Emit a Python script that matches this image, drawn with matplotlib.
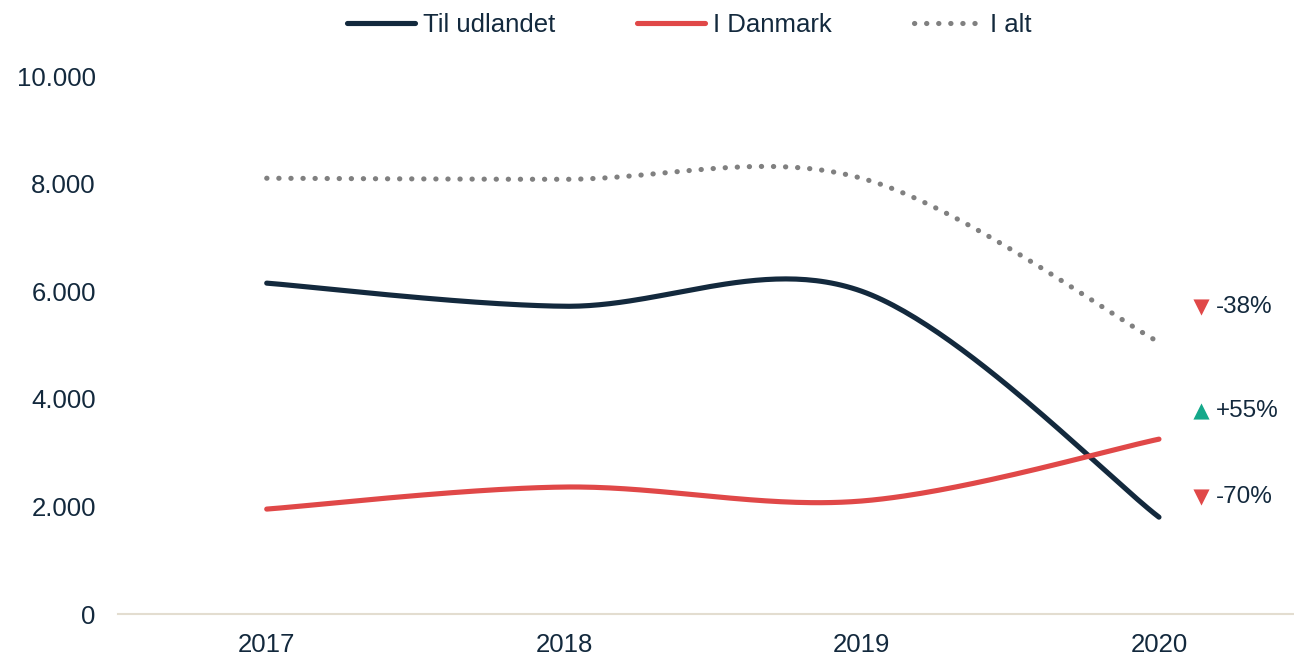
import numpy as np
import matplotlib
matplotlib.use("Agg")
import matplotlib.pyplot as plt

# data
years = ["2017", "2018", "2019", "2020"]
til_udlandet = [6150, 5720, 6000, 1800]
i_danmark = [1950, 2360, 2100, 3250]
i_alt = [8100, 8080, 8100, 5050]
y_ticks = [0, 2000, 4000, 6000, 8000, 10000]

NAVY = "#13293d"
RED = "#e04848"
GRAY = "#808080"
GREEN = "#14a88a"

plt.rcParams['font.family'] = ['Liberation Sans', 'DejaVu Sans']


def excel_smooth(xs, ys, n=60):
    # bezier smoothing like Excel's "smoothed line"
    pts = np.column_stack([xs, ys]).astype(float)
    ext = np.vstack([pts[0], pts, pts[-1]])
    out = []
    t = np.linspace(0, 1, n)[:, None]
    for i in range(len(pts) - 1):
        p0, p1, p2, p3 = ext[i], ext[i + 1], ext[i + 2], ext[i + 3]
        c1 = p1 + (p2 - p0) / 6
        c2 = p2 - (p3 - p1) / 6
        seg = ((1 - t) ** 3) * p1 + 3 * ((1 - t) ** 2) * t * c1 + 3 * (1 - t) * t ** 2 * c2 + t ** 3 * p2
        out.append(seg if i == 0 else seg[1:])
    out = np.vstack(out)
    return out[:, 0], out[:, 1]


fig = plt.figure(figsize=(12.94, 6.57), dpi=100)
ax = fig.add_axes([118 / 1294, 43 / 657, 1176 / 1294, 538 / 657])

x = np.arange(len(years))
for vals, color, style, label in [
    (til_udlandet, NAVY, "-", "Til udlandet"),
    (i_danmark, RED, "-", "I Danmark"),
    (i_alt, GRAY, (0, (0.05, 2.3)), "I alt"),
]:
    sx, sy = excel_smooth(x, vals)
    ax.plot(sx, sy, color=color, lw=3.7, ls=style, solid_capstyle="round",
            dash_capstyle="round", label=label, zorder=3)

# change 2019 -> 2020 annotations
ann_y = [2175, 3770, 5700]
for vals, ypos in zip([til_udlandet, i_danmark, i_alt], ann_y):
    pct = (vals[-1] / vals[-2] - 1) * 100
    up = pct > 0
    ax.scatter([3.14], [ypos], marker="^" if up else "v", s=135,
               color=GREEN if up else RED, linewidths=0, zorder=4)
    ax.text(3.19, ypos, f"{pct:+.0f}%", fontsize=17.5,
            color=NAVY, va="center", ha="left")

ax.set_xlim(-0.5, 3.454)
ax.set_ylim(0, 10000)
ax.set_xticks(x)
ax.set_xticklabels(years)
ax.set_yticks(y_ticks)
ax.set_yticklabels([f"{v:,}".replace(",", ".") for v in y_ticks])
ax.tick_params(axis="both", length=0, labelsize=18.5, labelcolor=NAVY)
ax.tick_params(axis="x", pad=14)
ax.tick_params(axis="y", pad=16)
for side in ["top", "right", "left"]:
    ax.spines[side].set_visible(False)
ax.spines["bottom"].set_color("#e3ddd0")
ax.spines["bottom"].set_linewidth(1.5)

leg = fig.legend(loc="center", bbox_to_anchor=(689 / 1294, 1 - 25 / 657), ncol=3,
                 frameon=False, fontsize=18.5, handlelength=2.65,
                 handletextpad=0.3, columnspacing=3.2)
for t in leg.get_texts():
    t.set_color(NAVY)

fig.savefig("out.png", dpi=100)
